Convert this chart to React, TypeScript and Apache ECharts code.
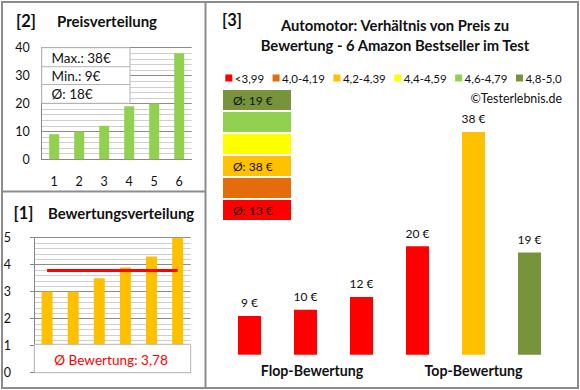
import React, { useEffect, useRef } from "react";
import * as echarts from "echarts";

// ---- data ----
const priceCategories = ["1", "2", "3", "4", "5", "6"];
const priceValues = [9, 10, 12, 19, 20, 38];
const ratingCategories = ["1", "2", "3", "4", "5", "6"];
const ratingValues = [3.0, 3.0, 3.5, 3.9, 4.3, 5.0];
const productIds = ["P1", "P2", "P3", "P4", "P5", "P6"];
const productAxisLabels = ["", "Flop-Bewertung", "", "", "Top-Bewertung", ""];
const productPrices = [9, 10, 12, 20, 38, 19];
const productRatings = [3.0, 3.0, 3.5, 3.9, 4.3, 5.0];
const classLabels = ["<3,99", "4,0-4,19", "4,2-4,39", "4,4-4,59", "4,6-4,79", "4,8-5,0"];
const classLower = [0, 4.0, 4.2, 4.4, 4.6, 4.8];

// ---- styles ----
const classColors = ["#ff0000", "#e46c0a", "#ffc000", "#ffff00", "#92d050", "#77933c"];
const FONT = "Lato";
const TXT = "#111111";
const FRAME = "#8c8c8c";

function classOf(r: number) {
  let c = 0;
  for (let i = 0; i < classLower.length; i++) if (r >= classLower[i]) c = i;
  return c;
}

function measure(text: string, font: string) {
  const c = document.createElement("canvas");
  const ctx = c.getContext("2d")!;
  ctx.font = font;
  return ctx.measureText(text).width;
}

export default function App() {
  const ref = useRef<HTMLDivElement>(null);
  useEffect(() => {
    const chart = echarts.init(ref.current!, null, { renderer: "svg" });

    const maxP = Math.max(...priceValues);
    const minP = Math.min(...priceValues);
    const avgP = priceValues.reduce((a, b) => a + b, 0) / priceValues.length;
    const avgR = ratingValues.reduce((a, b) => a + b, 0) / ratingValues.length;

    // class averages
    const sums = classLabels.map(() => 0);
    const counts = classLabels.map(() => 0);
    productRatings.forEach((r, i) => {
      const c = classOf(r);
      sums[c] += productPrices[i];
      counts[c] += 1;
    });

    const graphics: any[] = [];
    // frame
    graphics.push({ type: "rect", z: 200, shape: { x: 2, y: 2, width: 576, height: 386 }, style: { fill: "none", stroke: FRAME, lineWidth: 2 } });
    graphics.push({ type: "line", z: 200, shape: { x1: 205.5, y1: 2, x2: 205.5, y2: 388 }, style: { stroke: FRAME, lineWidth: 2 } });
    graphics.push({ type: "line", z: 200, shape: { x1: 2, y1: 191.5, x2: 205.5, y2: 191.5 }, style: { stroke: FRAME, lineWidth: 2 } });

    const txt = (text: string, x: number, y: number, font: string, fill = TXT, align = "left") => ({
      type: "text", z: 150, style: { text, x, y, font, fill, textAlign: align, textVerticalAlign: "middle" },
    });

    // panel titles
    graphics.push(txt("[2]", 16, 21, `bold 16.5px ${FONT}`));
    graphics.push(txt("Preisverteilung", 57, 20.5, `bold 15px ${FONT}`));
    graphics.push(txt("[1]", 13.5, 213, `bold 16.5px ${FONT}`));
    graphics.push(txt("Bewertungsverteilung", 48, 213, `bold 14.9px ${FONT}`));
    graphics.push(txt("[3]", 222, 20, `bold 16.5px ${FONT}`));
    graphics.push(txt("Automotor: Verhältnis von Preis zu", 395, 25, `bold 14.8px ${FONT}`, TXT, "center"));
    graphics.push(txt("Bewertung - 6 Amazon Bestseller im Test", 395, 45, `bold 14.8px ${FONT}`, TXT, "center"));
    graphics.push(txt("©Testerlebnis.de", 562, 98.5, `12.4px ${FONT}`, TXT, "right"));

    // info box panel 2
    const bx = 41.7, by = 47.7, bw = 88.3, bh = 55.6;
    graphics.push({ type: "rect", z: 120, shape: { x: bx, y: by, width: bw, height: bh }, style: { fill: "#fff", stroke: "#b4b4b4", lineWidth: 1 } });
    graphics.push({ type: "line", z: 121, shape: { x1: bx, y1: 66.7, x2: bx + bw, y2: 66.7 }, style: { stroke: "#b4b4b4", lineWidth: 1 } });
    graphics.push({ type: "line", z: 121, shape: { x1: bx, y1: 84.5, x2: bx + bw, y2: 84.5 }, style: { stroke: "#b4b4b4", lineWidth: 1 } });
    graphics.push(txt(`Max.: ${maxP}€`, 51.5, 57.5, `13.5px ${FONT}`));
    graphics.push(txt(`Min.: ${minP}€`, 51.5, 75.8, `13.5px ${FONT}`));
    graphics.push(txt(`Ø: ${Math.round(avgP)}€`, 51.5, 94, `13.5px ${FONT}`));

    // rating box panel 1
    graphics.push({ type: "rect", z: 120, shape: { x: 34.3, y: 344.3, width: 156.4, height: 28.4 }, style: { fill: "#fff", stroke: "#b4b4b4", lineWidth: 1 } });
    graphics.push(txt(`Ø Bewertung: ${avgR.toFixed(2).replace(".", ",")}`, 111, 359.5, `13.6px ${FONT}`, "#ff0000", "center"));

    // legend (rating classes)
    const legFont = `11.5px ${FONT}`;
    let lx = 225.3;
    classLabels.forEach((lab, i) => {
      graphics.push({ type: "rect", z: 130, shape: { x: lx, y: 74.5, width: 7, height: 7 }, style: { fill: classColors[i] } });
      graphics.push(txt(lab, lx + 9.5, 78.5, legFont));
      lx += 9.5 + measure(lab, legFont) + 8.5;
    });

    // class blocks
    const blockTop = 90, blockH = 20, blockGap = 2;
    for (let k = 0; k < classLabels.length; k++) {
      const ci = classLabels.length - 1 - k;
      const y = blockTop + k * (blockH + blockGap);
      graphics.push({ type: "rect", z: 130, shape: { x: 223, y, width: 68, height: blockH }, style: { fill: classColors[ci] } });
      if (counts[ci] > 0) {
        graphics.push(txt(`Ø: ${Math.round(sums[ci] / counts[ci])} €`, 233, y + blockH / 2 + 0.5, `12px ${FONT}`));
      }
    }

    const axisGray = "#868686";
    const option: any = {
      animation: false,
      backgroundColor: "#ffffff",
      textStyle: { fontFamily: FONT },
      grid: [
        { left: 41.7, top: 47.7, width: 150, height: 111.6 },
        { left: 34, top: 237.7, width: 156.7, height: 135 },
        { left: 221.5, top: 55.8, width: 336, height: 298.9 },
      ],
      xAxis: [
        {
          gridIndex: 0, type: "category", data: priceCategories,
          axisLine: { lineStyle: { color: axisGray } }, axisTick: { show: false },
          axisLabel: { margin: 16, fontSize: 12.5, color: TXT, fontFamily: FONT },
        },
        {
          gridIndex: 1, type: "category", data: ratingCategories,
          axisLine: { show: false }, axisTick: { show: false }, axisLabel: { show: false },
        },
        {
          gridIndex: 2, type: "category", data: productIds,
          axisLine: { show: false }, axisTick: { show: false },
          axisLabel: {
            interval: 0, margin: 9, color: TXT, fontFamily: FONT,
            formatter: (_v: string, idx: number) => {
              const s = productAxisLabels[idx];
              if (!s) return "";
              return idx < 3 ? `{f|${s}}` : `{t|${s}}`;
            },
            rich: {
              f: { fontSize: 14.2, fontWeight: "bold", color: TXT, fontFamily: FONT, padding: [0, 0, 0, 13] },
              t: { fontSize: 14.2, fontWeight: "bold", color: TXT, fontFamily: FONT },
            },
          },
        },
      ],
      yAxis: [
        {
          gridIndex: 0, type: "value", min: 0, max: 40, interval: 10,
          axisLine: { show: true, lineStyle: { color: axisGray } }, axisTick: { show: false },
          axisLabel: { margin: 12, fontSize: 12.5, color: TXT, fontFamily: FONT },
          splitLine: { lineStyle: { color: "#8c8c8c" } },
          minorTick: { show: false, splitNumber: 5 },
          minorSplitLine: { show: true, lineStyle: { color: "#cfcfcf" } },
        },
        {
          gridIndex: 1, type: "value", min: 0, max: 5, interval: 1,
          axisLine: { show: true, lineStyle: { color: axisGray } },
          axisTick: { show: true, length: 4, lineStyle: { color: axisGray } },
          axisLabel: { margin: 23, fontSize: 12.5, color: TXT, fontFamily: FONT },
          splitLine: { lineStyle: { color: "#8c8c8c" } },
          minorTick: { show: false, splitNumber: 5 },
          minorSplitLine: { show: true, lineStyle: { color: "#cfcfcf" } },
        },
        {
          gridIndex: 2, type: "value", min: 2.9, max: 50, show: false,
          splitLine: { show: false },
        },
      ],
      series: [
        {
          type: "bar", xAxisIndex: 0, yAxisIndex: 0, data: priceValues, barWidth: 10,
          itemStyle: { color: "#92d050" },
        },
        {
          type: "bar", xAxisIndex: 1, yAxisIndex: 1, data: ratingValues, barWidth: 11,
          itemStyle: { color: "#ffc000" },
          markLine: {
            silent: true, symbol: ["none", "none"], label: { show: false },
            lineStyle: { color: "#ff0000", width: 3, type: "solid" },
            data: [[{ coord: [ratingCategories[0], avgR] }, { coord: [ratingCategories[ratingCategories.length - 1], avgR] }]],
          },
        },
        {
          type: "bar", xAxisIndex: 2, yAxisIndex: 2, barWidth: 23,
          data: productPrices.map((p, i) => ({ value: p, itemStyle: { color: classColors[classOf(productRatings[i])] } })),
          label: { show: true, position: "top", distance: 7, formatter: "{c} €", fontSize: 12, color: TXT, fontFamily: FONT },
        },
      ],
      graphic: graphics,
    };
    chart.setOption(option);
    return () => chart.dispose();
  }, []);
  return <div ref={ref} style={{ position: "absolute", left: 0, top: 0, width: 580, height: 390 }} />;
}
